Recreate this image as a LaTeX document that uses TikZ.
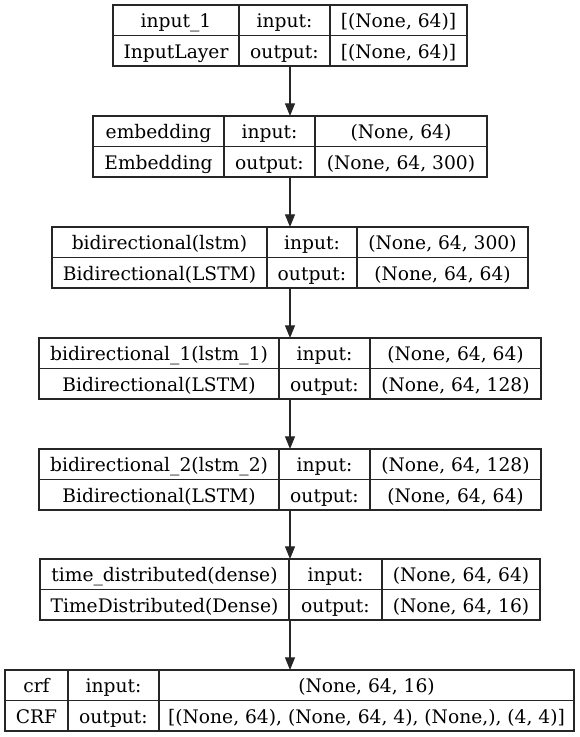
\documentclass[tikz,border=0pt]{standalone}
\usepackage{fontspec}
\setmainfont{DejaVu Serif}
\usepackage{tikz}
\usetikzlibrary{positioning, arrows.meta, calc}

\tikzset{
    layer/.style={draw=black!85, line width=0.9pt, inner sep=0pt, outer sep=0pt,
        anchor=north west, minimum height=45.75pt},
    rule/.style={draw=black!85, line width=0.9pt},
    cell/.style={anchor=base, inner sep=0pt, font=\fontsize{14pt}{17pt}\selectfont},
    flow/.style={draw=black!85, line width=0.9pt, -{Triangle[length=9.5pt, width=7.5pt]}}
}

% frame of one layer: name, top, left, divider 1, divider 2, right (in px)
\newcommand{\layerbox}[6]{%
    \def\ltop{#2}\def\lleft{#3}\def\lda{#4}\def\ldb{#5}\def\lright{#6}
    \node[layer, minimum width={(#6-#3)*0.75pt}] (#1) at (#3,#2) {};
    \draw[rule] (#1.west) -- (#1.east);
    \draw[rule] (#4,#2) -- (#4,#2+61);
    \draw[rule] (#5,#2) -- (#5,#2+61);
}

% texts of one layer: name, layer name, class, input shape, output shape
\newcommand{\layertext}[5]{%
    \node[cell] (#1-name)   at ({(\lleft+\lda)/2}, \ltop+22.5)  {#2};
    \node[cell] (#1-class)  at ({(\lleft+\lda)/2}, \ltop+53.5)  {#3};
    \node[cell] (#1-inlbl)  at ({(\lda+\ldb)/2},   \ltop+22.5)  {input:};
    \node[cell] (#1-outlbl) at ({(\lda+\ldb)/2},   \ltop+53.5)  {output:};
    \node[cell] (#1-in)     at ({(\ldb+\lright)/2}, \ltop+22.5) {#4};
    \node[cell] (#1-out)    at ({(\ldb+\lright)/2}, \ltop+53.5) {#5};
}

\begin{document}
\begin{tikzpicture}[x=0.75pt, y=-0.75pt]
    \useasboundingbox (0,0) rectangle (580,737);

    % layers
    \layerbox{inp}{5}{113}{239}{330}{467}
    \layertext{inp}{input\_1}{InputLayer}{[(None, 64)]}{[(None, 64)]}

    \layerbox{emb}{116}{93}{224}{315}{487}
    \layertext{emb}{embedding}{Embedding}{(None, 64)}{(None, 64, 300)}

    \layerbox{bilstm}{227}{52}{267}{357}{528}
    \layertext{bilstm}{bidirectional(lstm)}{Bidirectional(LSTM)}{(None, 64, 300)}{(None, 64, 64)}

    \layerbox{bilstma}{338}{39}{279}{370}{541}
    \layertext{bilstma}{bidirectional\_1(lstm\_1)}{Bidirectional(LSTM)}{(None, 64, 64)}{(None, 64, 128)}

    \layerbox{bilstmb}{449}{39}{279}{370}{541}
    \layertext{bilstmb}{bidirectional\_2(lstm\_2)}{Bidirectional(LSTM)}{(None, 64, 128)}{(None, 64, 64)}

    \layerbox{tdense}{559}{40}{289}{382}{540}
    \layertext{tdense}{time\_distributed(dense)}{TimeDistributed(Dense)}{(None, 64, 64)}{(None, 64, 16)}

    \layerbox{crf}{670}{5}{68}{159}{574}
    \layertext{crf}{crf}{CRF}{(None, 64, 16)}{[(None, 64), (None, 64, 4), (None,), (4, 4)]}

    % connectors
    \foreach \src/\dst in {inp/emb, emb/bilstm, bilstm/bilstma,
        bilstma/bilstmb, bilstmb/tdense, tdense/crf}
    {
        \draw[flow] (\src.south) -- (\src.south |- \dst.north);
    }
\end{tikzpicture}
\end{document}
